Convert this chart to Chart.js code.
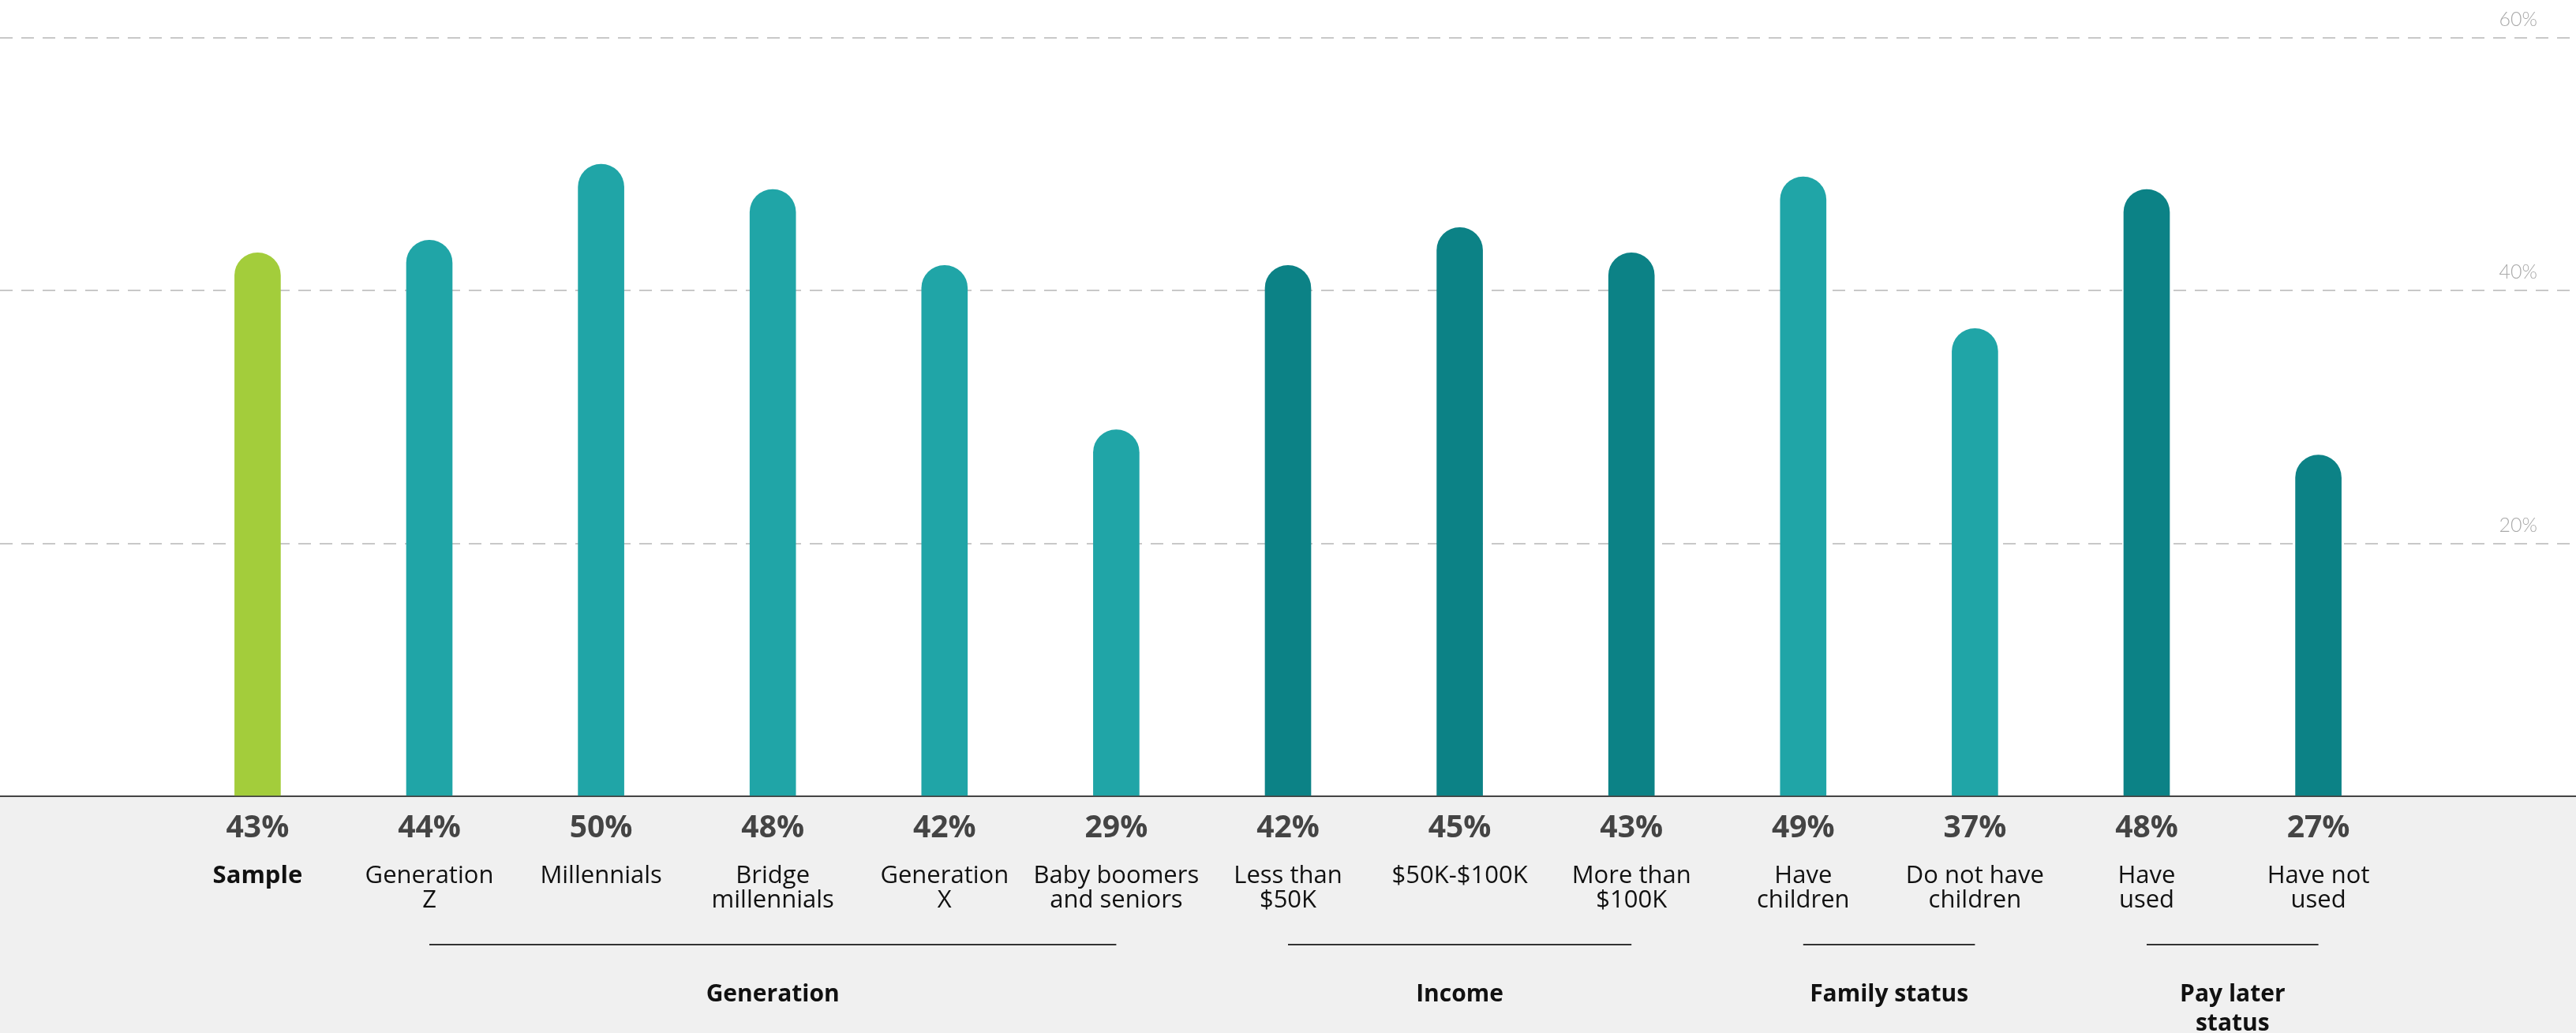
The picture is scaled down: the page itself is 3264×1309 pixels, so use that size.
<!DOCTYPE html>
<html>
<head>
<meta charset="utf-8">
<title>Share by segment</title>
<script src="https://cdn.jsdelivr.net/npm/chart.js@4.4.1/dist/chart.umd.min.js"></script>
<style>
  html, body { margin: 0; padding: 0; background: #fff; overflow: hidden; }
  canvas { display: block; }
</style>
</head>
<body>
<canvas id="chart" width="3264" height="1309"></canvas>
<script>
// ================= DATA =================
// one empty slot at each end keeps the bars off the edges
const categories = [
  "",
  "Sample",
  ["Generation", "Z"],
  "Millennials",
  ["Bridge", "millennials"],
  ["Generation", "X"],
  ["Baby boomers", "and seniors"],
  ["Less than", "$50K"],
  "$50K-$100K",
  ["More than", "$100K"],
  ["Have", "children"],
  ["Do not have", "children"],
  ["Have", "used"],
  ["Have not", "used"],
  ""
];
const shares = [null, 43, 44, 50, 48, 42, 29, 42, 45, 43, 49, 37, 48, 27, null];
const yTicks = [0, 20, 40, 60];

// segment groups (first / last category index of each)
const groupNames = [["Generation"], ["Income"], ["Family status"], ["Pay later", "status"]];
const groupFirst = [2, 7, 10, 12];
const groupLast = [6, 9, 11, 13];

// ================= STYLE =================
const GREEN = "#a3cd3b";
const TEAL = "#20a5a7";
const DARK_TEAL = "#0c8286";
const groupColors = [TEAL, DARK_TEAL, TEAL, DARK_TEAL];

function barColor(i) {
  if (i === 1) return GREEN;
  const g = groupFirst.findIndex((f, k) => i >= f && i <= groupLast[k]);
  return g >= 0 ? groupColors[g] : TEAL;
}

Chart.defaults.font.family = "'Open Sans', sans-serif";

// grey band under the axis, value labels and group brackets
const segmentLabels = {
  id: "segmentLabels",
  beforeDraw(chart) {
    const { ctx, chartArea, width, height } = chart;
    ctx.save();
    ctx.fillStyle = "#f0f0f0";
    ctx.fillRect(0, chartArea.bottom, width, height - chartArea.bottom);
    ctx.restore();
  },
  afterDraw(chart) {
    const { ctx, chartArea } = chart;
    const bars = chart.getDatasetMeta(0).data;
    const base = chartArea.bottom;

    ctx.save();
    ctx.textAlign = "center";
    ctx.textBaseline = "alphabetic";

    // values
    ctx.fillStyle = "#444";
    ctx.font = "bold 39px 'Open Sans'";
    shares.forEach((v, i) => {
      if (v == null) return;
      ctx.fillText(v + "%", bars[i].x, base + 52);
    });

    // groups
    ctx.strokeStyle = "#333";
    ctx.lineWidth = 2;
    ctx.fillStyle = "#111";
    ctx.font = "bold 30px 'Open Sans'";
    groupNames.forEach((lines, g) => {
      const x0 = bars[groupFirst[g]].x;
      const x1 = bars[groupLast[g]].x;
      ctx.beginPath();
      ctx.moveTo(x0, base + 188);
      ctx.lineTo(x1, base + 188);
      ctx.stroke();
      lines.forEach((t, k) => ctx.fillText(t, (x0 + x1) / 2, base + 260 + k * 37));
    });
    ctx.restore();
  }
};

// ================= CHART =================
new Chart(document.getElementById("chart"), {
  type: "bar",
  data: {
    labels: categories,
    datasets: [{
      data: shares,
      backgroundColor: categories.map((c, i) => barColor(i)),
      barThickness: 58,
      borderRadius: { topLeft: 29, topRight: 29, bottomLeft: 0, bottomRight: 0 },
      borderSkipped: "start"
    }]
  },
  options: {
    responsive: false,
    animation: false,
    devicePixelRatio: 1,
    layout: { padding: { top: 48, left: 0, right: 0, bottom: 0 } },
    plugins: {
      legend: { display: false },
      tooltip: { enabled: false }
    },
    scales: {
      x: {
        grid: { display: false, drawTicks: false },
        border: { display: true, color: "#444", width: 2 },
        ticks: {
          color: "#111",
          padding: 85,
          maxRotation: 0,
          autoSkip: false,
          font: (ctx) => ({
            family: "'Open Sans'",
            size: 31,
            weight: ctx.index === 1 ? "bold" : "normal",
            lineHeight: 1.02
          })
        },
        afterFit(scale) { scale.height = 300; }
      },
      y: {
        position: "right",
        min: 0,
        max: 60,
        afterBuildTicks(scale) {
          scale.ticks = yTicks.map(v => ({ value: v }));
        },
        grid: {
          color: (ctx) => ctx.tick && ctx.tick.value === 0 ? "rgba(0,0,0,0)" : "#c8c8c8",
          lineWidth: 2,
          drawTicks: false
        },
        border: { display: false, dash: [16, 11] },
        ticks: {
          mirror: true,
          padding: -49,
          labelOffset: -23,
          color: "#aaa",
          font: { family: "Lato", size: 25, weight: 300 },
          callback: (v) => v === 0 ? "" : v + "%"
        },
        afterFit(scale) { scale.width = 0; }
      }
    }
  },
  plugins: [segmentLabels]
});
</script>
</body>
</html>
